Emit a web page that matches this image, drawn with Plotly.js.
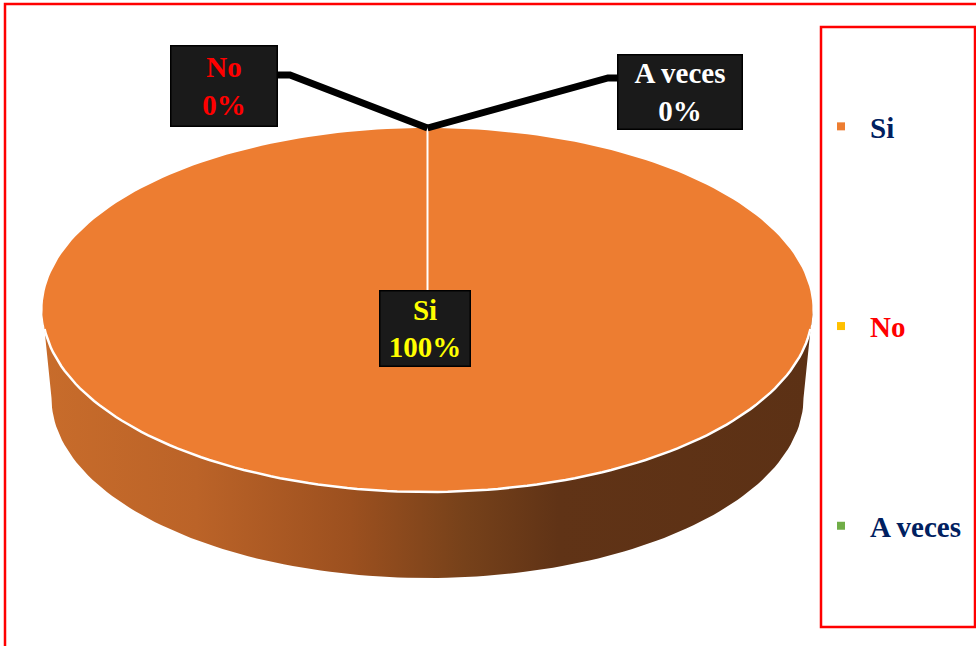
<!DOCTYPE html>
<html>
<head>
<meta charset="utf-8">
<script src="https://cdn.plot.ly/plotly-3.0.1.min.js"></script>
<style>html,body{margin:0;padding:0;background:#fff;}#chart{width:976px;height:646px;}</style>
</head>
<body>
<div id="chart"></div>
<script>
// ---- data ----
const categories = ['Si', 'No', 'A veces'];
const values = [100, 0, 0];               // percent
// ---- styles ----
const sliceColors = ['#ED7D31', '#FFC000', '#70AD47'];
const labelFontColors = ['#FFFF00', '#FF0000', '#FFFFFF'];
const legendFontColors = ['#002060', '#FF0000', '#002060'];
const sideColorscales = [
  [[0, '#c86c2b'], [0.2, '#bb6328'], [0.4, '#9c501f'], [0.55, '#76411a'], [0.67, '#603316'], [1, '#5c3115']],
  [[0, '#c79a10'], [1, '#6b5208']],
  [[0, '#5e9a3a'], [1, '#34561f']]
];

// ---- geometry (pixel space: axes map 1:1 to the 976x646 page) ----
const W = 976, H = 646;
const topE = {cx: 427.5, cy: 310, rx: 385, ry: 182};
const botE = {cx: 427.5, cy: 398, rx: 376, ry: 180};
const pt = (e, deg) => {
  const r = deg * Math.PI / 180;
  return [e.cx + e.rx * Math.sin(r), e.cy - e.ry * Math.cos(r)];
};
const arc = (e, a, b) => {
  const n = Math.max(2, Math.ceil(Math.abs(b - a) / 1.5));
  const xs = [], ys = [];
  for (let i = 0; i <= n; i++) {
    const p = pt(e, a + (b - a) * i / n);
    xs.push(p[0]); ys.push(p[1]);
  }
  return [xs, ys];
};

const total = values.reduce((s, v) => s + v, 0);
const starts = [], ends = [];
let acc = 0;
values.forEach(v => { starts.push(acc / total * 360); acc += v; ends.push(acc / total * 360); });

const traces = [];
// sides (front half only)
values.forEach((v, i) => {
  const a = Math.max(starts[i], 90), b = Math.min(ends[i], 270);
  if (b <= a) return;
  const [tx, ty] = arc(topE, a, b);
  const [bx, by] = arc(botE, b, a);
  traces.push({
    type: 'scatter', mode: 'lines', x: tx.concat(bx), y: ty.concat(by),
    fill: 'toself', line: {width: 0},
    fillgradient: {type: 'horizontal', colorscale: sideColorscales[i]},
    hoverinfo: 'skip', showlegend: false
  });
});
// top faces
values.forEach((v, i) => {
  if (ends[i] <= starts[i]) return;
  const [ax, ay] = arc(topE, starts[i], ends[i]);
  traces.push({
    type: 'scatter', mode: 'lines',
    x: [topE.cx].concat(ax, [topE.cx]), y: [topE.cy].concat(ay, [topE.cy]),
    fill: 'toself', fillcolor: sliceColors[i], line: {width: 0},
    hoverinfo: 'skip', showlegend: false
  });
});
// white front rim
{
  const [rx, ry] = arc(topE, 96, 264);
  traces.push({type: 'scatter', mode: 'lines', x: rx, y: ry,
    line: {color: '#ffffff', width: 2.5}, hoverinfo: 'skip', showlegend: false});
}
// white slice borders
const bounds = [...new Set(starts.concat(ends).map(a => a % 360))];
bounds.forEach(a => {
  const p = pt(topE, a);
  traces.push({type: 'scatter', mode: 'lines', x: [topE.cx, p[0]], y: [topE.cy, p[1]],
    line: {color: '#ffffff', width: 2}, hoverinfo: 'skip', showlegend: false});
});
// legend entries
categories.forEach((c, i) => {
  traces.push({
    type: 'scatter', mode: 'markers', x: [null], y: [null],
    name: '<span style="color:' + legendFontColors[i] + '">' + c + '</span>',
    legendgroup: 'g' + i,
    marker: {symbol: 'square', size: 8, color: sliceColors[i]},
    hoverinfo: 'skip', showlegend: true
  });
});

// ---- labels ----
const labelBoxes = [
  {cx: 425, cy: 328.5, w: 92, h: 77},
  {cx: 224, cy: 86, w: 108, h: 82},
  {cx: 680, cy: 92, w: 126, h: 76}
];
const leaderPts = [null, [[278, 75], [290, 75]], [[617, 78], [608, 78]]];
const annotations = [], shapes = [];
const font = {family: 'Liberation Serif', size: 29, weight: 'bold'};
values.forEach((v, i) => {
  const b = labelBoxes[i];
  annotations.push({
    xref: 'x', yref: 'y', x: b.cx, y: b.cy, showarrow: false,
    text: categories[i] + '<br>' + v + '%',
    font: Object.assign({}, font, {color: labelFontColors[i]}),
    bgcolor: '#1a1a1a', bordercolor: '#000000', borderwidth: 1.5, borderpad: 0,
    width: b.w - 3, height: b.h - 3, align: 'center', valign: 'middle'
  });
  if (leaderPts[i]) {
    const mid = (starts[i] + ends[i]) / 2;
    const anchor = pt(topE, mid);
    const p = leaderPts[i];
    shapes.push({type: 'path', xref: 'x', yref: 'y', layer: 'above',
      path: 'M' + p[0][0] + ',' + p[0][1] + ' L' + p[1][0] + ',' + p[1][1] + ' L' + anchor[0] + ',' + anchor[1],
      line: {color: '#000000', width: 7}});
  }
});
// frame and legend box
shapes.push({type: 'rect', xref: 'paper', yref: 'paper',
  x0: 5 / W, x1: 1.02, y0: -0.02, y1: 1 - 4 / H, line: {color: '#ff0000', width: 2.5}, layer: 'below'});
shapes.push({type: 'rect', xref: 'paper', yref: 'paper',
  x0: 821 / W, x1: 975 / W, y0: 1 - 627 / H, y1: 1 - 27 / H, line: {color: '#ff0000', width: 2.5}, layer: 'below'});

const layout = {
  width: W, height: H,
  margin: {l: 0, r: 0, t: 0, b: 0},
  paper_bgcolor: '#ffffff', plot_bgcolor: 'rgba(0,0,0,0)',
  xaxis: {range: [0, W], visible: false, fixedrange: true},
  yaxis: {range: [H, 0], visible: false, fixedrange: true},
  showlegend: true,
  legend: {
    x: 812 / W, xanchor: 'left', y: 1 - 101 / H, yanchor: 'top',
    bgcolor: 'rgba(0,0,0,0)', borderwidth: 0,
    font: font, itemwidth: 48, tracegroupgap: 159, traceorder: 'grouped'
  },
  annotations: annotations,
  shapes: shapes,
  hovermode: false
};
Plotly.newPlot('chart', traces, layout, {displayModeBar: false, staticPlot: true});
</script>
</body>
</html>
